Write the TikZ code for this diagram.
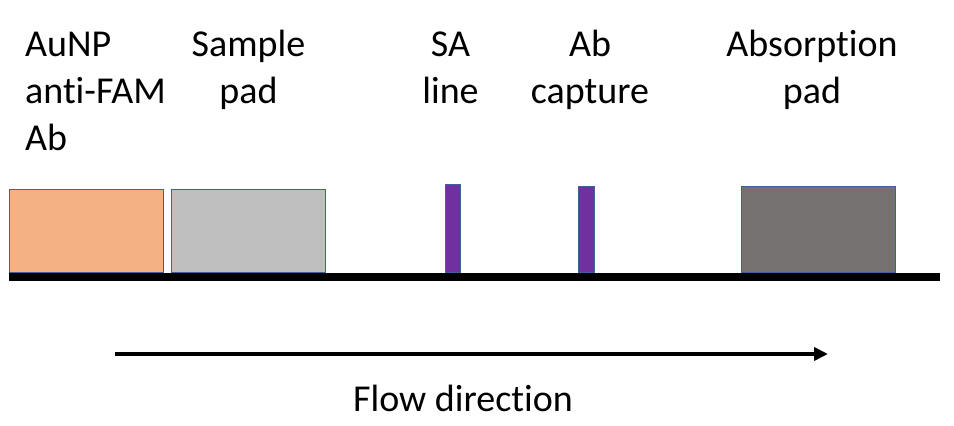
\documentclass[tikz,border=0pt]{standalone}
\usepackage{fontspec}
\setmainfont[Ligatures=NoCommon]{Carlito}
\usetikzlibrary{arrows.meta}
\definecolor{orangepad}{HTML}{F4B183}
\definecolor{graypad}{HTML}{BFBFBF}
\definecolor{darkpad}{HTML}{767171}
\definecolor{purpleline}{HTML}{7030A0}
\definecolor{edgeblue}{HTML}{41609A}
\tikzset{
  pad/.style={draw=edgeblue, line width=1pt},
  lbl/.style={font=\fontsize{38}{46.7}\selectfont, align=center, anchor=base, inner sep=0pt},
  lblL/.style={font=\fontsize{38}{46.7}\selectfont, align=left, anchor=base west, inner sep=0pt},
}
\begin{document}
\begin{tikzpicture}[x=1pt,y=-1pt]
\useasboundingbox (0,0) rectangle (954,426);
% base strip
\fill[black] (9,273) rectangle (940,281);
% pads
\filldraw[pad, fill=orangepad] (9,189) rectangle (163,272.5);
\filldraw[pad, fill=graypad] (171,189) rectangle (325,272.5);
\filldraw[pad, fill=purpleline] (445,184.5) rectangle (460,272.5);
\filldraw[pad, fill=purpleline] (578.5,186) rectangle (594,272.5);
\filldraw[pad, fill=darkpad] (741,186) rectangle (895.5,272.5);
% labels (anchored at the baseline of their last line)
\node[lblL] (l1) at (25,150) {AuNP\\anti-FAM\\Ab};
\node[lbl] (l2) at (248.5,103.5) {Sample\\pad};
\node[lbl] (l3) at (450.5,103.5) {SA\\line};
\node[lbl] (l4) at (590,103.5) {Ab\\capture};
\node[lbl] (l5) at (812,103.5) {Absorption\\pad};
% flow arrow
\coordinate (fs) at (115,354);
\coordinate (fe) at (828,354);
\draw[line width=4pt, -{Triangle[length=14pt,width=13pt]}] (fs) -- (fe);
\node[lbl] (flow) at (463,411.7) {Flow direction};
\end{tikzpicture}
\end{document}
